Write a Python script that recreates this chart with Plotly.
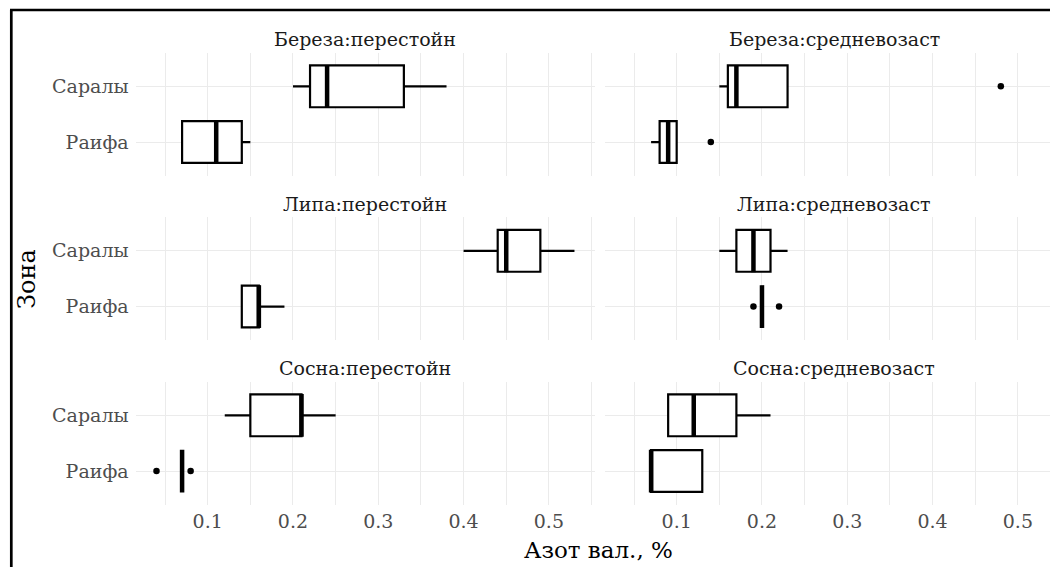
import plotly.graph_objects as go
from plotly.subplots import make_subplots

# ---------------- data ----------------
zones = ["Саралы", "Раифа"]
zone_order = ["Раифа", "Саралы"]
species = ["Береза", "Липа", "Сосна"]
ages = ["перестойн", "средневозаст"]

# Береза:перестойн
bereza_per_q1 = [0.22, 0.07]
bereza_per_med = [0.24, 0.11]
bereza_per_q3 = [0.33, 0.14]
bereza_per_lo = [0.20, 0.07]
bereza_per_hi = [0.38, 0.15]
bereza_per_out_x = []
bereza_per_out_y = []

# Береза:средневозаст
bereza_sred_q1 = [0.16, 0.08]
bereza_sred_med = [0.17, 0.09]
bereza_sred_q3 = [0.23, 0.10]
bereza_sred_lo = [0.15, 0.07]
bereza_sred_hi = [0.23, 0.10]
bereza_sred_out_x = [0.48, 0.14]
bereza_sred_out_y = ["Саралы", "Раифа"]

# Липа:перестойн
lipa_per_q1 = [0.44, 0.14]
lipa_per_med = [0.45, 0.16]
lipa_per_q3 = [0.49, 0.16]
lipa_per_lo = [0.40, 0.14]
lipa_per_hi = [0.53, 0.19]
lipa_per_out_x = []
lipa_per_out_y = []

# Липа:средневозаст
lipa_sred_q1 = [0.17, 0.20]
lipa_sred_med = [0.19, 0.20]
lipa_sred_q3 = [0.21, 0.20]
lipa_sred_lo = [0.15, 0.20]
lipa_sred_hi = [0.23, 0.20]
lipa_sred_out_x = [0.19, 0.22]
lipa_sred_out_y = ["Раифа", "Раифа"]

# Сосна:перестойн
sosna_per_q1 = [0.15, 0.07]
sosna_per_med = [0.21, 0.07]
sosna_per_q3 = [0.21, 0.07]
sosna_per_lo = [0.12, 0.07]
sosna_per_hi = [0.25, 0.07]
sosna_per_out_x = [0.04, 0.08]
sosna_per_out_y = ["Раифа", "Раифа"]

# Сосна:средневозаст
sosna_sred_q1 = [0.09, 0.07]
sosna_sred_med = [0.12, 0.07]
sosna_sred_q3 = [0.17, 0.13]
sosna_sred_lo = [0.09, 0.07]
sosna_sred_hi = [0.21, 0.13]
sosna_sred_out_x = []
sosna_sred_out_y = []

x_tick_vals = [0.1, 0.2, 0.3, 0.4, 0.5]
x_tick_text = ["0.1", "0.2", "0.3", "0.4", "0.5"]
x_title = "Азот вал., %"
y_title = "Зона"

panels = [
    (bereza_per_q1, bereza_per_med, bereza_per_q3, bereza_per_lo, bereza_per_hi, bereza_per_out_x, bereza_per_out_y),
    (bereza_sred_q1, bereza_sred_med, bereza_sred_q3, bereza_sred_lo, bereza_sred_hi, bereza_sred_out_x, bereza_sred_out_y),
    (lipa_per_q1, lipa_per_med, lipa_per_q3, lipa_per_lo, lipa_per_hi, lipa_per_out_x, lipa_per_out_y),
    (lipa_sred_q1, lipa_sred_med, lipa_sred_q3, lipa_sred_lo, lipa_sred_hi, lipa_sred_out_x, lipa_sred_out_y),
    (sosna_per_q1, sosna_per_med, sosna_per_q3, sosna_per_lo, sosna_per_hi, sosna_per_out_x, sosna_per_out_y),
    (sosna_sred_q1, sosna_sred_med, sosna_sred_q3, sosna_sred_lo, sosna_sred_hi, sosna_sred_out_x, sosna_sred_out_y),
]

# ---------------- layout geometry ----------------
OFF = 8  # page body margin
W, H = 1058 - OFF, 567 - OFF
FONT = "DejaVu Serif"
GRID = "#EBEBEB"
X_MIN = 0.0155
X_MAX = 0.5545
PX_PER_UNIT = 853.0
col_x0 = [135.6, 604.6]
col_x1 = [135.6 + (X_MAX - X_MIN) * PX_PER_UNIT, 1058.0]
col_xmax = [X_MAX, X_MIN + (1058.0 - 604.6) / PX_PER_UNIT]
row_top = [52.9, 217.4, 381.9]
ROW_H = 122.6
BOX_W = 0.75
BOX_PX = ROW_H / 2.2 * BOX_W


def px_x(p):
    return (p - OFF) / W


def px_y(p):
    return 1 - (p - OFF) / H


fig = make_subplots(rows=3, cols=2)

for i, (q1, med, q3, lo, hi, ox, oy) in enumerate(panels):
    r = i // 2 + 1
    c = i % 2 + 1
    fig.add_trace(go.Box(
        orientation="h", y=zones, q1=q1, median=med, q3=q3,
        lowerfence=lo, upperfence=hi, width=BOX_W, whiskerwidth=0,
        fillcolor="white", line=dict(color="black", width=2.2),
        boxpoints=False, showlegend=False, hoverinfo="skip",
    ), row=r, col=c)
    fig.add_trace(go.Scatter(
        x=med, y=zones, mode="markers", showlegend=False, hoverinfo="skip",
        marker=dict(symbol="line-ns", size=(BOX_PX + 1) / 1.4, color="black",
                    line=dict(color="black", width=4.5)),
    ), row=r, col=c)
    if ox:
        fig.add_trace(go.Scatter(
            x=ox, y=oy, mode="markers", showlegend=False, hoverinfo="skip",
            marker=dict(symbol="circle", size=6.5, color="black"),
        ), row=r, col=c)

annotations = []
for i in range(6):
    r = i // 2
    c = i % 2
    n = i + 1
    xa = "xaxis" if n == 1 else f"xaxis{n}"
    ya = "yaxis" if n == 1 else f"yaxis{n}"
    top = row_top[r]
    bot = top + ROW_H
    fig.layout[xa].update(
        domain=[px_x(col_x0[c]), px_x(col_x1[c])],
        range=[X_MIN, col_xmax[c]],
        tickvals=x_tick_vals, ticktext=x_tick_text,
        showticklabels=(r == 2),
        showgrid=True, gridcolor=GRID, gridwidth=1.1,
        minor=dict(dtick=0.05, tick0=0.05, showgrid=True, gridcolor=GRID, gridwidth=1.1),
        zeroline=False, showline=False, ticks="",
        tickfont=dict(family=FONT, size=19, color="#4D4D4D"),
        ticklabelstandoff=3,
    )
    fig.layout[ya].update(
        domain=[px_y(bot), px_y(top)],
        type="category", categoryorder="array", categoryarray=zone_order,
        range=[-0.6, 1.6],
        showticklabels=(c == 0),
        showgrid=True, gridcolor=GRID, gridwidth=1.1,
        zeroline=False, showline=False, ticks="",
        tickfont=dict(family=FONT, size=19, color="#4D4D4D"),
        ticklabelstandoff=6,
    )
    annotations.append(dict(
        text=f"{species[r]}:{ages[c]}",
        x=px_x(col_x0[c] + (X_MAX - X_MIN) * PX_PER_UNIT / 2),
        y=px_y(top - 0.5), xref="paper", yref="paper",
        xanchor="center", yanchor="bottom", showarrow=False,
        font=dict(family=FONT, size=19, color="#1A1A1A"),
    ))

annotations.append(dict(
    text=x_title, x=px_x(598), y=px_y(550), xref="paper", yref="paper",
    xanchor="center", yanchor="middle", showarrow=False,
    font=dict(family=FONT, size=23, color="black"),
))
annotations.append(dict(
    text=y_title, x=px_x(27), y=px_y(279), xref="paper", yref="paper",
    xanchor="center", yanchor="middle", showarrow=False, textangle=-90,
    font=dict(family=FONT, size=24, color="black"),
))

shapes = [
    dict(type="line", xref="paper", yref="paper", x0=px_x(11.3), x1=px_x(11.3),
         y0=-0.1, y1=px_y(10), line=dict(color="black", width=2.7)),
    dict(type="line", xref="paper", yref="paper", x0=px_x(10), x1=1.1,
         y0=px_y(10), y1=px_y(10), line=dict(color="black", width=2.7)),
]

fig.update_layout(
    width=W, height=H,
    margin=dict(l=0, r=0, t=0, b=0),
    paper_bgcolor="white", plot_bgcolor="white",
    annotations=annotations, shapes=shapes,
    showlegend=False,
)

fig.write_html("out.html")
